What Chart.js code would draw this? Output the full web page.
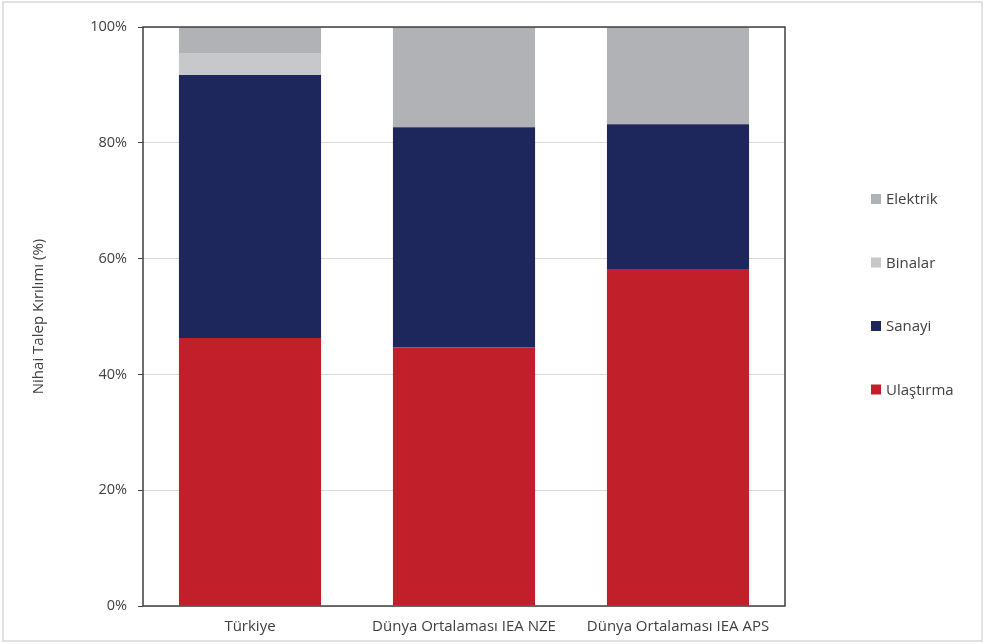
<!DOCTYPE html>
<html>
<head>
<meta charset="utf-8">
<script src="https://cdn.jsdelivr.net/npm/chart.js@4.4.1/dist/chart.umd.min.js"></script>
<style>
  html, body { margin: 0; padding: 0; background: #ffffff; }
  #wrap { width: 986px; height: 644px; position: relative; }
</style>
</head>
<body>
<div id="wrap"><canvas id="c" width="986" height="644"></canvas></div>
<script>
const categories = ["Türkiye", "Dünya Ortalaması IEA NZE", "Dünya Ortalaması IEA APS"];
const ulastirma = [46.3, 44.7, 58.2];
const sanayi    = [45.4, 38.0, 25.0];
const binalar   = [3.8, 0, 0];
const elektrik  = [4.5, 17.3, 16.8];
const yTickValues = [0, 20, 40, 60, 80, 100];
const yAxisTitle = "Nihai Talep Kırılımı (%)";

const FONT = "'Open Sans', Lato, sans-serif";
const TEXT = "#404040";

const frame = {
  id: 'frame',
  beforeDraw(chart) {
    const ctx = chart.ctx;
    ctx.save();
    ctx.fillStyle = '#ffffff';
    ctx.fillRect(0, 0, chart.width, chart.height);
    ctx.strokeStyle = '#d9d9d9';
    ctx.lineWidth = 1.5;
    ctx.strokeRect(3, 2, chart.width - 7, chart.height - 5);
    ctx.restore();
  },
  afterDatasetsDraw(chart) {
    const a = chart.chartArea, ctx = chart.ctx;
    ctx.save();
    ctx.strokeStyle = '#3f3f3f';
    ctx.lineWidth = 1.5;
    ctx.strokeRect(a.left, a.top, a.right - a.left, a.bottom - a.top);
    ctx.restore();
  }
};

const sideLegend = {
  id: 'sideLegend',
  afterDraw(chart) {
    const ctx = chart.ctx;
    const ds = chart.data.datasets.slice().reverse();
    ctx.save();
    ctx.font = "15px " + FONT;
    ctx.textBaseline = 'middle';
    ctx.textAlign = 'left';
    const x0 = 871, y0 = 199, step = 63.5;
    ds.forEach((d, i) => {
      const y = y0 + i * step;
      ctx.fillStyle = d.backgroundColor;
      ctx.fillRect(x0, y - 5, 10, 10);
      ctx.fillStyle = TEXT;
      ctx.fillText(d.label, x0 + 15, y + 1);
    });
    ctx.restore();
  }
};

new Chart(document.getElementById('c'), {
  type: 'bar',
  data: {
    labels: categories,
    datasets: [
      { label: 'Ulaştırma', data: ulastirma, backgroundColor: '#c1202a' },
      { label: 'Sanayi', data: sanayi, backgroundColor: '#1e275c' },
      { label: 'Binalar', data: binalar, backgroundColor: '#c7c8ca' },
      { label: 'Elektrik', data: elektrik, backgroundColor: '#b1b2b6' }
    ]
  },
  options: {
    responsive: false,
    animation: false,
    devicePixelRatio: 1,
    layout: { padding: { left: 20, right: 201, top: 27, bottom: 0 } },
    datasets: { bar: { categoryPercentage: 1, barPercentage: 0.664, borderWidth: 0 } },
    plugins: { legend: { display: false }, tooltip: { enabled: false } },
    scales: {
      x: {
        stacked: true,
        grid: { display: false, drawTicks: false },
        border: { display: false },
        ticks: { color: TEXT, font: { family: FONT, size: 15 }, padding: 12, maxRotation: 0 },
        afterFit(s) { s.height = 38; }
      },
      y: {
        stacked: true,
        min: 0, max: 100,
        afterBuildTicks(s) { s.ticks = yTickValues.map(v => ({ value: v })); },
        grid: { color: '#d9d9d9', lineWidth: 1, tickLength: 5, tickColor: '#3f3f3f', drawTicks: true },
        border: { display: false },
        ticks: { color: TEXT, font: { family: FONT, size: 14.5 }, padding: 11, callback: v => v + '%' },
        title: { display: true, text: yAxisTitle, color: TEXT, font: { family: FONT, size: 15 }, padding: { top: 10, bottom: 0 } },
        afterFit(s) { s.width = 123; }
      }
    }
  },
  plugins: [frame, sideLegend]
});
</script>
</body>
</html>
